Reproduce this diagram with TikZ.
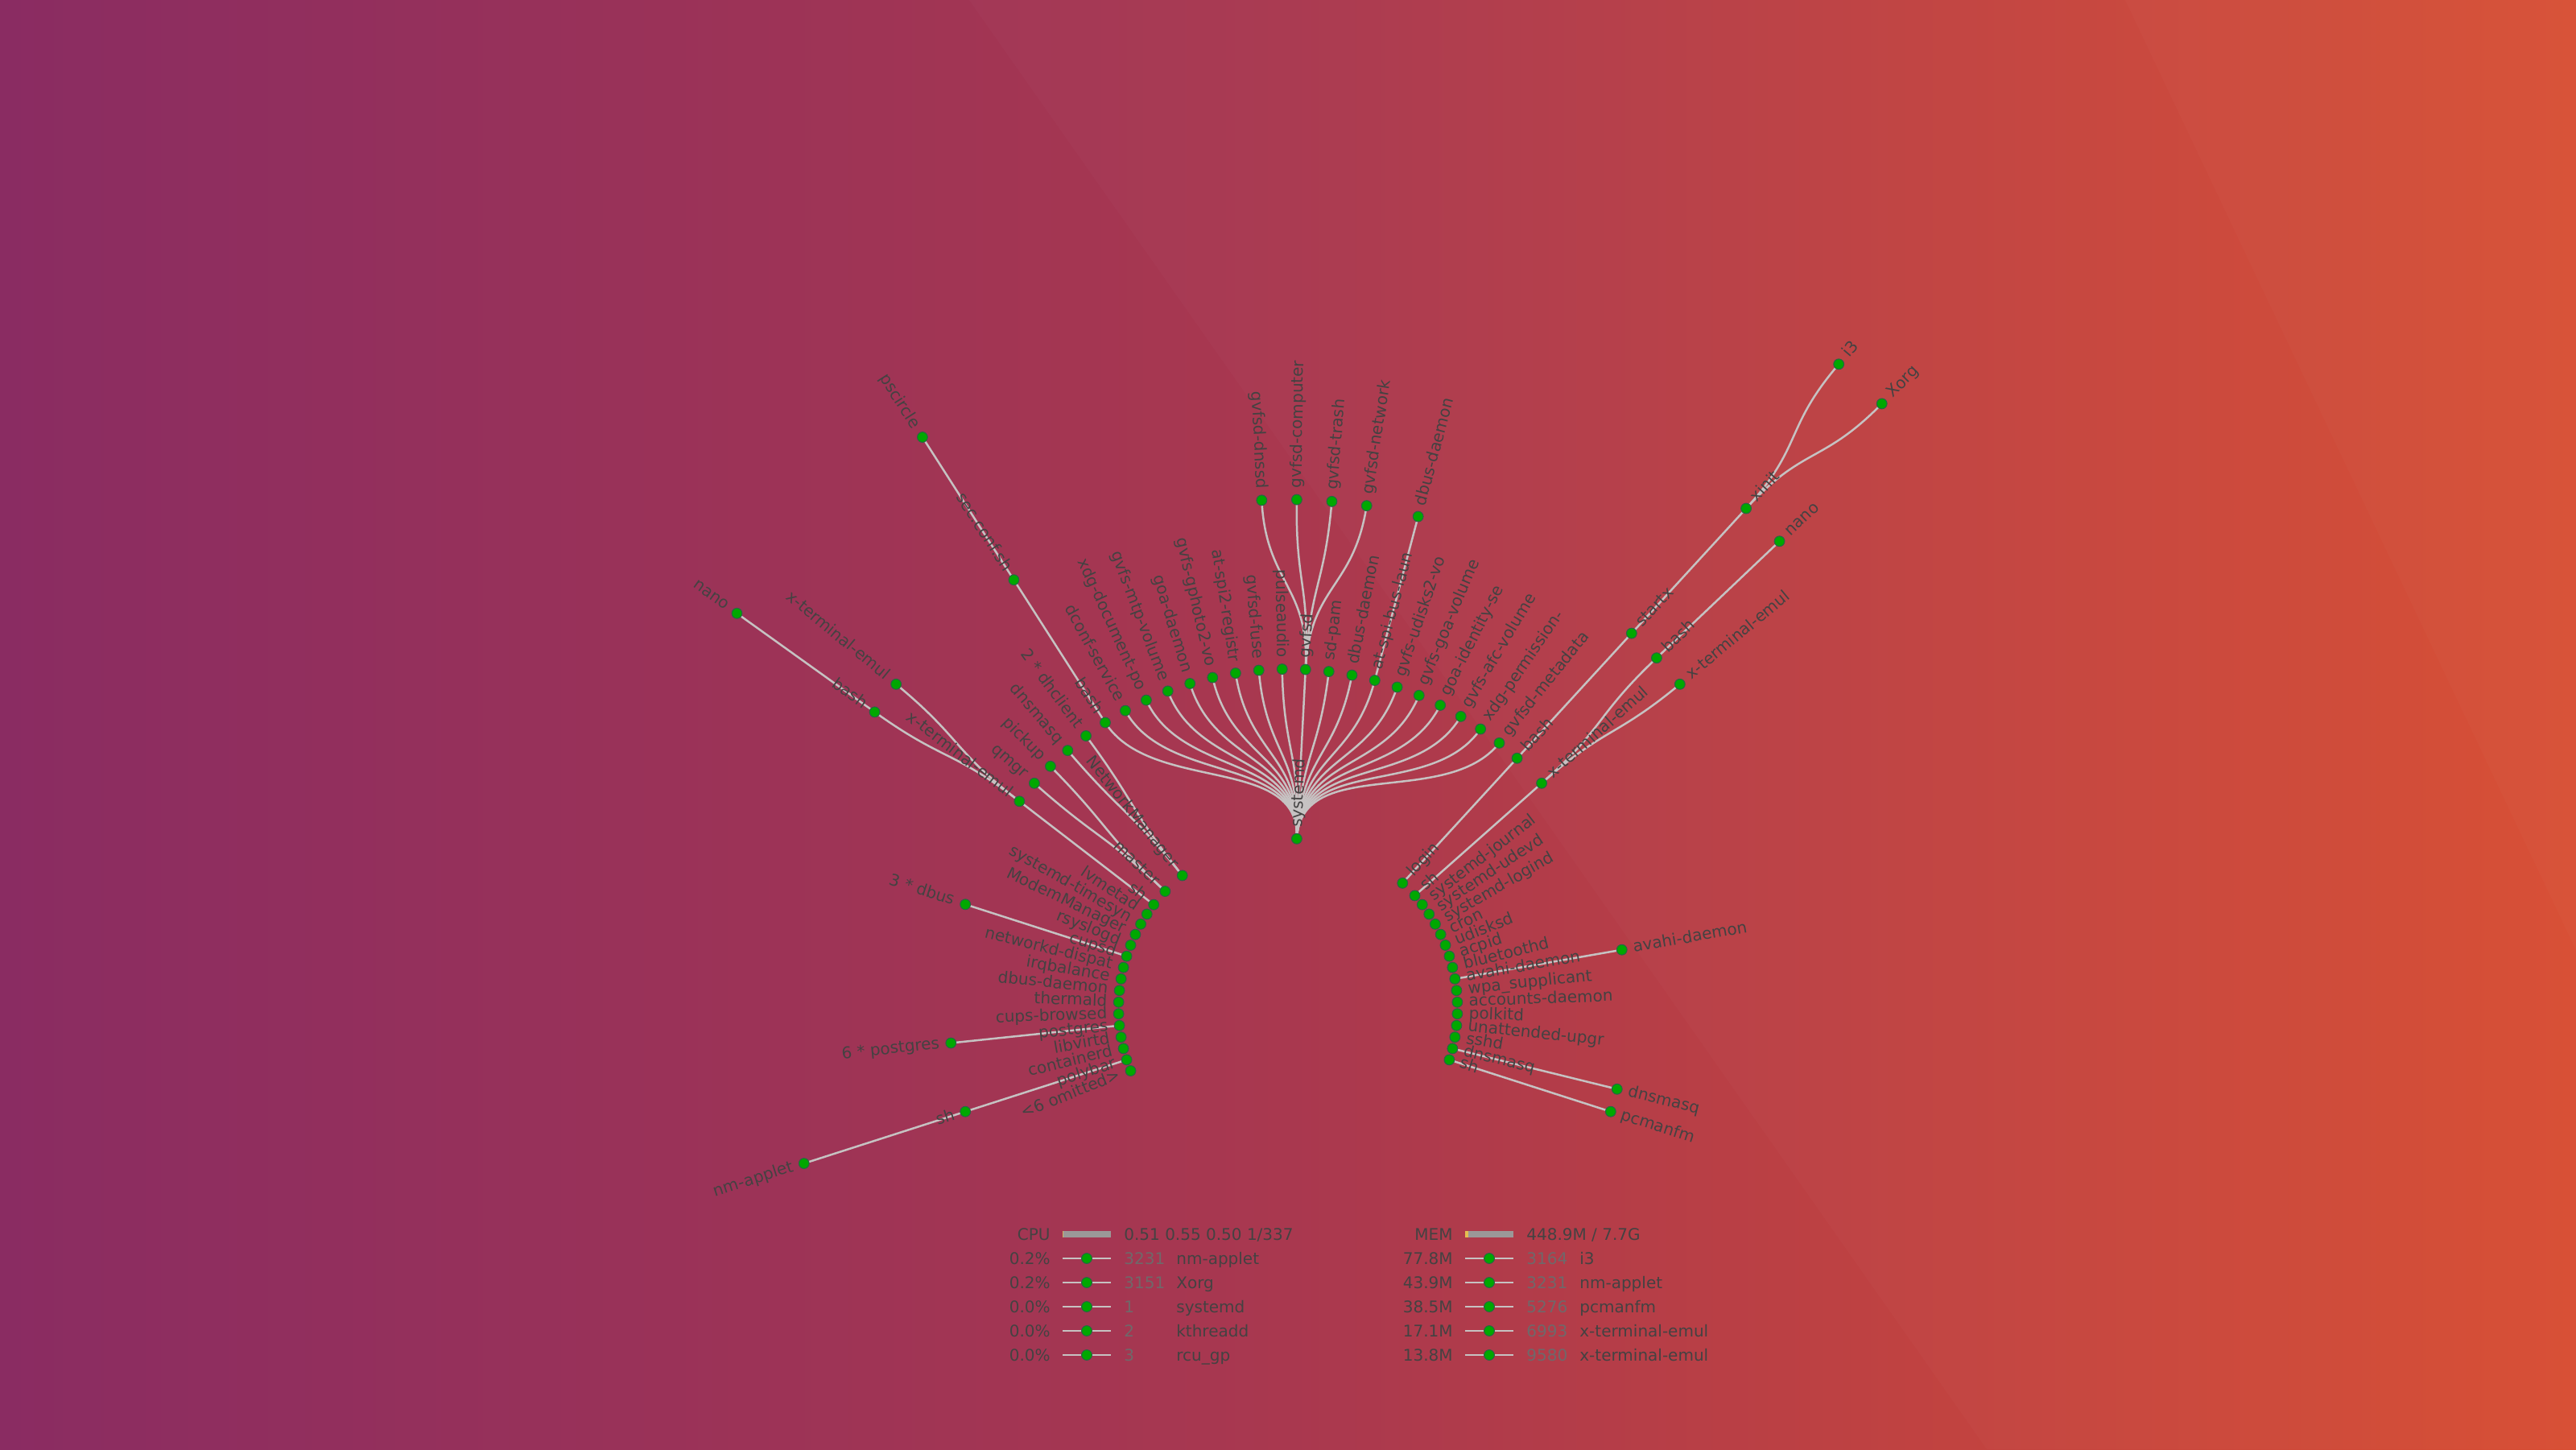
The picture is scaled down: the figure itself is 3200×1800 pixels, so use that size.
\documentclass[tikz,border=0pt]{standalone}
\usepackage{fontspec}
\setmainfont{DejaVu Sans}
\definecolor{bgL}{RGB}{138,44,98}
\definecolor{bgM}{RGB}{169,56,79}
\definecolor{bgR}{RGB}{216,77,50}
\definecolor{txt}{RGB}{68,66,66}
\definecolor{pidc}{RGB}{112,104,106}
\definecolor{linkc}{RGB}{198,194,194}
\definecolor{dotf}{RGB}{0,168,0}
\definecolor{dotd}{RGB}{40,100,70}
\definecolor{barc}{RGB}{155,152,152}
\definecolor{memc}{RGB}{228,190,80}
\pgfdeclarelayer{bglayer}
\pgfdeclarelayer{links}
\pgfdeclarelayer{labels}
\pgfsetlayers{bglayer,links,main,labels}
\tikzset{
  dot/.style={circle, inner sep=0pt, minimum size=6.4pt, fill=dotf, draw=dotd, line width=0.5pt},
  lbl/.style={inner sep=0pt, text=txt, font=\fontsize{10}{12}\selectfont},
  lblR/.style={lbl, anchor=mid west},
  lblL/.style={lbl, anchor=mid east},
  link/.style={draw=linkc, line width=1.25pt},
  tval/.style={lbl, anchor=base east},
  tpid/.style={lbl, anchor=base west, text=pidc},
  tname/.style={lbl, anchor=base west},
  tline/.style={draw=linkc, line width=1.25pt},
}
\newcommand\PSnode[5]{%
  \pgfmathsetmacro\PSang{#2*3.956044}%
  \pgfmathsetmacro\PSrad{#3*210.5}%
  \pgfmathsetmacro\PSlab{#3*210.5+14}%
  \expandafter\xdef\csname PSa@#1\endcsname{\PSang}%
  \expandafter\xdef\csname PSr@#1\endcsname{\PSrad}%
  \node[dot] (#1) at (\PSang:\PSrad) {};%
  \begin{pgfonlayer}{labels}%
  \if#4R%
    \node[lblR, rotate=\PSang] (#1-t) at (\PSang:\PSlab) {#5};%
  \else
    \pgfmathsetmacro\PSrot{\PSang-180}%
    \node[lblL, rotate=\PSrot] (#1-t) at (\PSang:\PSlab) {#5};%
  \fi
  \end{pgfonlayer}%
}
\newcommand\PSlink[2]{%
  \edef\PSpa{\csname PSa@#1\endcsname}%
  \edef\PSca{\csname PSa@#2\endcsname}%
  \pgfmathsetmacro\PSmid{(\csname PSr@#1\endcsname+\csname PSr@#2\endcsname)/2}%
  \begin{pgfonlayer}{links}%
  \draw[link] (#1.center) .. controls (\PSpa:\PSmid) and (\PSca:\PSmid) .. (#2.center);%
  \end{pgfonlayer}%
}
\begin{document}
\begin{tikzpicture}[x=0.5pt,y=0.5pt]
\useasboundingbox (-1600,-548) rectangle (1600,1252);
\begin{pgfonlayer}{bglayer}
\shade[left color=bgL, right color=bgR, middle color=bgM] (-1600,-548) rectangle (1600,1252);
\fill[white, opacity=0.018] (-396,1252) -- (1600,1252) -- (1600,-548) -- (868,-548) -- cycle;
\fill[white, opacity=0.02] (1040,1252) -- (1600,1252) -- (1600,72) -- cycle;
\end{pgfonlayer}

% level 1
\PSnode{systemd}{22}{1}{R}{systemd}
\PSnode{login}{12}{1}{R}{login}
\PSnode{shA}{10.5}{1}{R}{sh}
\PSnode{sjournal}{9.5}{1}{R}{systemd-journal}
\PSnode{udevd}{8.5}{1}{R}{systemd-udevd}
\PSnode{logind}{7.5}{1}{R}{systemd-logind}
\PSnode{cron}{6.5}{1}{R}{cron}
\PSnode{udisksd}{5.5}{1}{R}{udisksd}
\PSnode{acpid}{4.5}{1}{R}{acpid}
\PSnode{bluetoothd}{3.5}{1}{R}{bluetoothd}
\PSnode{avahi}{2.5}{1}{R}{avahi-daemon}
\PSnode{wpa}{1.5}{1}{R}{wpa\_supplicant}
\PSnode{accounts}{0.5}{1}{R}{accounts-daemon}
\PSnode{polkitd}{-0.5}{1}{R}{polkitd}
\PSnode{unattended}{-1.5}{1}{R}{unattended-upgr}
\PSnode{sshd}{-2.5}{1}{R}{sshd}
\PSnode{dnsmasqA}{-3.5}{1}{R}{dnsmasq}
\PSnode{shB}{-4.5}{1}{R}{sh}
\PSnode{nm}{32.5}{1}{L}{NetworkManager}
\PSnode{master}{34.5}{1}{L}{master}
\PSnode{shC}{36}{1}{L}{sh}
\PSnode{lvmetad}{37}{1}{L}{lvmetad}
\PSnode{timesyn}{38}{1}{L}{systemd-timesyn}
\PSnode{modem}{39}{1}{L}{ModemManager}
\PSnode{rsyslogd}{40}{1}{L}{rsyslogd}
\PSnode{cupsd}{41}{1}{L}{cupsd}
\PSnode{networkd}{42}{1}{L}{networkd-dispat}
\PSnode{irqbalance}{43}{1}{L}{irqbalance}
\PSnode{dbusA}{44}{1}{L}{dbus-daemon}
\PSnode{thermald}{45}{1}{L}{thermald}
\PSnode{cupsb}{46}{1}{L}{cups-browsed}
\PSnode{postgres}{47}{1}{L}{postgres}
\PSnode{libvirtd}{48}{1}{L}{libvirtd}
\PSnode{containerd}{49}{1}{L}{containerd}
\PSnode{polybar}{50}{1}{L}{polybar}
\PSnode{omitted}{51}{1}{L}{<6 omitted>}

% level 2
\PSnode{bashA}{31}{2}{L}{bash}
\PSnode{dconf}{30}{2}{L}{dconf-service}
\PSnode{xdgdoc}{29}{2}{L}{xdg-document-po}
\PSnode{mtp}{28}{2}{L}{gvfs-mtp-volume}
\PSnode{goad}{27}{2}{L}{goa-daemon}
\PSnode{gphoto}{26}{2}{L}{gvfs-gphoto2-vo}
\PSnode{atspi}{25}{2}{L}{at-spi2-registr}
\PSnode{gfuse}{24}{2}{L}{gvfsd-fuse}
\PSnode{pulse}{23}{2}{L}{pulseaudio}
\PSnode{gvfsd}{22}{2}{R}{gvfsd}
\PSnode{sdpam}{21}{2}{R}{sd-pam}
\PSnode{dbusB}{20}{2}{R}{dbus-daemon}
\PSnode{atbus}{19}{2}{R}{at-spi-bus-laun}
\PSnode{udisks}{18}{2}{R}{gvfs-udisks2-vo}
\PSnode{goavol}{17}{2}{R}{gvfs-goa-volume}
\PSnode{goaid}{16}{2}{R}{goa-identity-se}
\PSnode{afc}{15}{2}{R}{gvfs-afc-volume}
\PSnode{xdgperm}{14}{2}{R}{xdg-permission-}
\PSnode{metadata}{13}{2}{R}{gvfsd-metadata}
\PSnode{bashB}{12}{2}{R}{bash}
\PSnode{xtermA}{10.5}{2}{R}{x-terminal-emul}
\PSnode{avahiB}{2.5}{2}{R}{avahi-daemon}
\PSnode{dnsmasqB}{-3.5}{2}{R}{dnsmasq}
\PSnode{pcmanfm}{-4.5}{2}{R}{pcmanfm}
\PSnode{dhclient}{32}{2}{L}{2 * dhclient}
\PSnode{dnsmasqC}{33}{2}{L}{dnsmasq}
\PSnode{pickup}{34}{2}{L}{pickup}
\PSnode{qmgr}{35}{2}{L}{qmgr}
\PSnode{xtermB}{36}{2}{L}{x-terminal-emul}
\PSnode{dbusC}{41}{2}{L}{3 * dbus}
\PSnode{postgresB}{47}{2}{L}{6 * postgres}
\PSnode{shD}{50}{2}{L}{sh}

% level 3
\PSnode{dnssd}{23.5}{3}{L}{gvfsd-dnssd}
\PSnode{computer}{22.5}{3}{R}{gvfsd-computer}
\PSnode{trash}{21.5}{3}{R}{gvfsd-trash}
\PSnode{network}{20.5}{3}{R}{gvfsd-network}
\PSnode{dbusD}{19}{3}{R}{dbus-daemon}
\PSnode{startx}{12}{3}{R}{startx}
\PSnode{bashC}{11}{3}{R}{bash}
\PSnode{xtermC}{10}{3}{R}{x-terminal-emul}
\PSnode{secconf}{31}{3}{L}{sec.conf.sh}
\PSnode{xtermD}{35.5}{3}{L}{x-terminal-emul}
\PSnode{bashD}{36.5}{3}{L}{bash}
\PSnode{nmapplet}{50}{3}{L}{nm-applet}

% level 4
\PSnode{xinit}{12}{4}{R}{xinit}
\PSnode{nanoA}{11}{4}{R}{nano}
\PSnode{pscircle}{31}{4}{L}{pscircle}
\PSnode{nanoB}{36.5}{4}{L}{nano}

% level 5
\PSnode{i3}{12.5}{5}{R}{i3}
\PSnode{xorg}{11.5}{5}{R}{Xorg}

% links
\foreach \c in {bashA,dconf,xdgdoc,mtp,goad,gphoto,atspi,gfuse,pulse,gvfsd,sdpam,dbusB,atbus,udisks,goavol,goaid,afc,xdgperm,metadata}{\PSlink{systemd}{\c}}
\foreach \c in {dnssd,computer,trash,network}{\PSlink{gvfsd}{\c}}
\PSlink{atbus}{dbusD}
\PSlink{login}{bashB}
\PSlink{bashB}{startx}
\PSlink{startx}{xinit}
\PSlink{xinit}{i3}
\PSlink{xinit}{xorg}
\PSlink{shA}{xtermA}
\PSlink{xtermA}{bashC}
\PSlink{xtermA}{xtermC}
\PSlink{bashC}{nanoA}
\PSlink{avahi}{avahiB}
\PSlink{dnsmasqA}{dnsmasqB}
\PSlink{shB}{pcmanfm}
\PSlink{nm}{dhclient}
\PSlink{nm}{dnsmasqC}
\PSlink{master}{pickup}
\PSlink{master}{qmgr}
\PSlink{shC}{xtermB}
\PSlink{xtermB}{xtermD}
\PSlink{xtermB}{bashD}
\PSlink{bashD}{nanoB}
\PSlink{bashA}{secconf}
\PSlink{secconf}{pscircle}
\PSlink{cupsd}{dbusC}
\PSlink{postgres}{postgresB}
\PSlink{polybar}{shD}
\PSlink{shD}{nmapplet}

% CPU table
\node[tval] (cpuh) at (-295,-288.3) {CPU};
\coordinate (cpuba) at (-280,-281);
\coordinate (cpubb) at (-220,-281);
\draw[barc, line width=3.6pt] (cpuba) -- (cpubb);
\draw[memc!70!barc, line width=3.6pt] (cpuba) -- ++(1,0);
\node[tname] (cpul) at (-204,-288.3) {0.51 0.55 0.50 1/337};
\foreach \i/\v/\p/\n in {1/0.2\%/3231/nm-applet,2/0.2\%/3151/Xorg,3/0.0\%/1/systemd,4/0.0\%/2/kthreadd,5/0.0\%/3/rcu\_gp}{
  \pgfmathsetmacro\ry{-281-30*\i}
  \pgfmathsetmacro\rb{\ry-7.3}
  \node[tval] (cpuv\i) at (-295,\rb) {\v};
  \coordinate (cpua\i) at (-280,\ry);
  \coordinate (cpub\i) at (-220,\ry);
  \draw[tline] (cpua\i) -- (cpub\i);
  \node[dot] (cpud\i) at (-250,\ry) {};
  \node[tpid] (cpup\i) at (-204,\rb) {\p};
  \node[tname] (cpun\i) at (-139,\rb) {\n};
}

% MEM table
\node[tval] (memh) at (205,-288.3) {MEM};
\coordinate (memba) at (220,-281);
\coordinate (membb) at (280,-281);
\draw[barc, line width=3.6pt] (memba) -- (membb);
\draw[memc, line width=3.6pt] (memba) -- ++(3.5,0);
\node[tname] (meml) at (296,-288.3) {448.9M / 7.7G};
\foreach \i/\v/\p/\n in {1/77.8M/3164/i3,2/43.9M/3231/nm-applet,3/38.5M/5276/pcmanfm,4/17.1M/6993/x-terminal-emul,5/13.8M/9580/x-terminal-emul}{
  \pgfmathsetmacro\ry{-281-30*\i}
  \pgfmathsetmacro\rb{\ry-7.3}
  \node[tval] (memv\i) at (205,\rb) {\v};
  \coordinate (mema\i) at (220,\ry);
  \coordinate (memb\i) at (280,\ry);
  \draw[tline] (mema\i) -- (memb\i);
  \node[dot] (memd\i) at (250,\ry) {};
  \node[tpid] (memp\i) at (296,\rb) {\p};
  \node[tname] (memn\i) at (362,\rb) {\n};
}
\end{tikzpicture}
\end{document}
